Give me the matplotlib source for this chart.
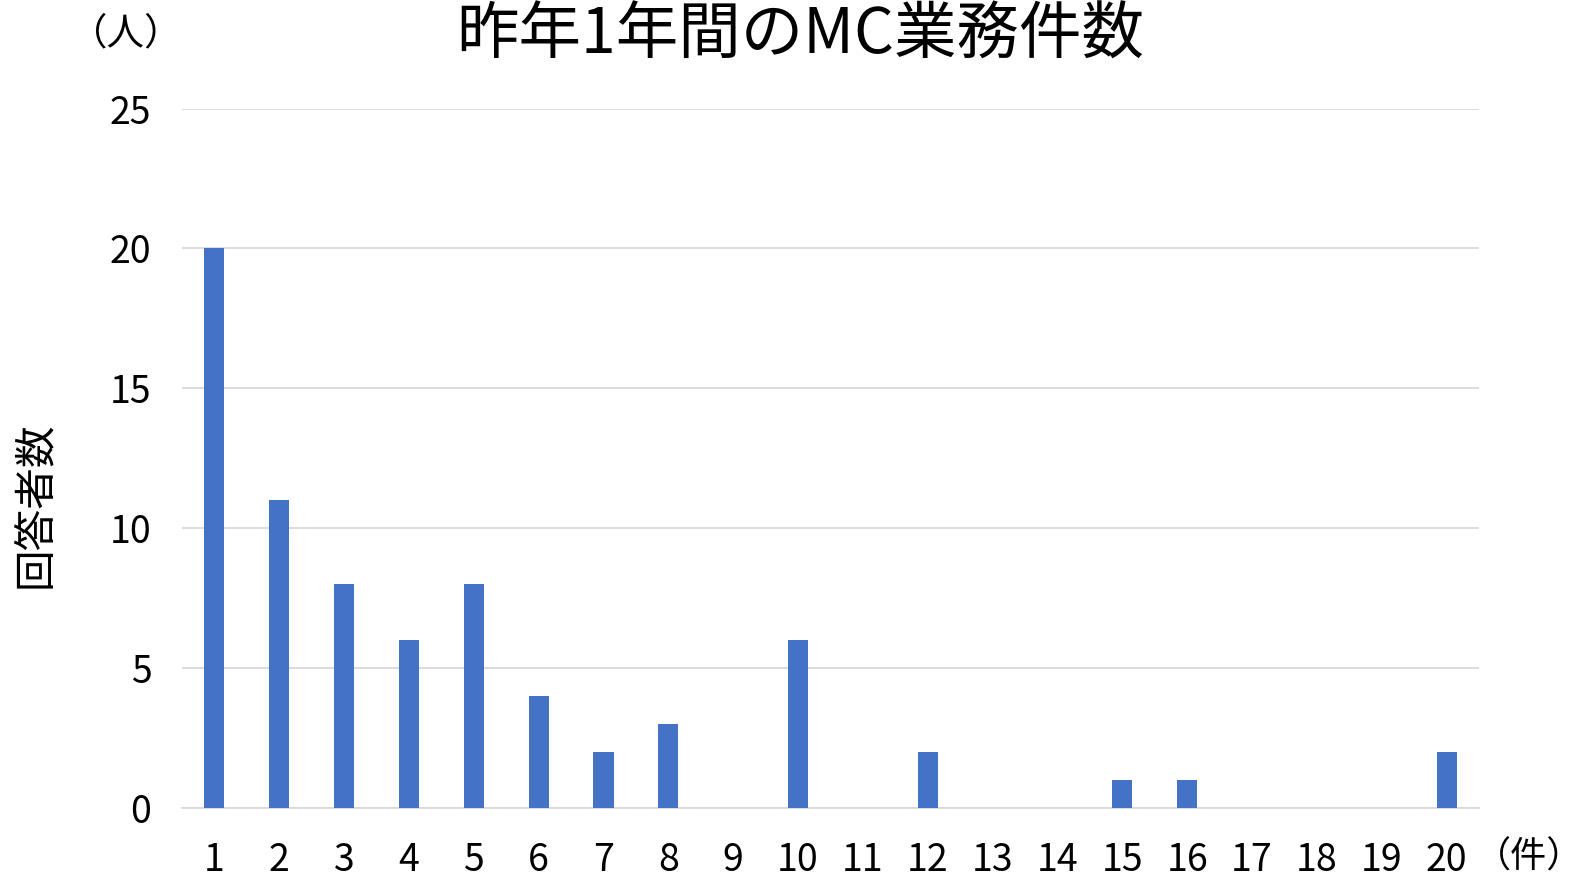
import matplotlib.pyplot as plt

plt.rcParams['font.family'] = ['Noto Sans CJK JP', 'DejaVu Sans']

# 件数（横軸）と回答者数
categories = ['1', '2', '3', '4', '5', '6', '7', '8', '9', '10',
              '11', '12', '13', '14', '15', '16', '17', '18', '19', '20']
counts = [20, 11, 8, 6, 8, 4, 2, 3, 0, 6, 0, 2, 0, 0, 1, 1, 0, 0, 0, 2]
yticks = [0, 5, 10, 15, 20, 25]

W, H = 1584, 883
fig = plt.figure(figsize=(W / 100, H / 100), dpi=100)
ax = fig.add_axes([182 / W, 1 - 808 / H, (1479 - 182) / W, (808 - 108.5) / H])

x = range(len(categories))
ax.bar(x, counts, width=0.31, color='#4472C4', zorder=3)

ax.set_xlim(-0.5, len(categories) - 0.5)
ax.set_ylim(0, 25)
ax.set_xticks(list(x))
ax.set_xticklabels(categories)
ax.set_yticks(yticks)
ax.tick_params(axis='both', length=0, labelsize=27)
ax.tick_params(axis='x', pad=24)
ax.tick_params(axis='y', pad=22)

ax.grid(axis='y', color='#D9D9D9', linewidth=1.3, zorder=0)
for side in ['top', 'right', 'left']:
    ax.spines[side].set_visible(False)
ax.spines['bottom'].set_color('#D9D9D9')
ax.spines['bottom'].set_linewidth(1.3)

fig.text(0.505, 1 - 36 / H, '昨年1年間のMC業務件数', ha='center', va='center', fontsize=45)
fig.text(126 / W, 1 - 34 / H, '（人）', ha='center', va='center', fontsize=27)
fig.text(1529 / W, 1 - 858 / H, '（件）', ha='center', va='center', fontsize=26)
fig.text(35 / W, 1 - 505 / H, '回答者数', ha='center', va='center', rotation=90, fontsize=30)

plt.savefig('out.png', dpi=100)
